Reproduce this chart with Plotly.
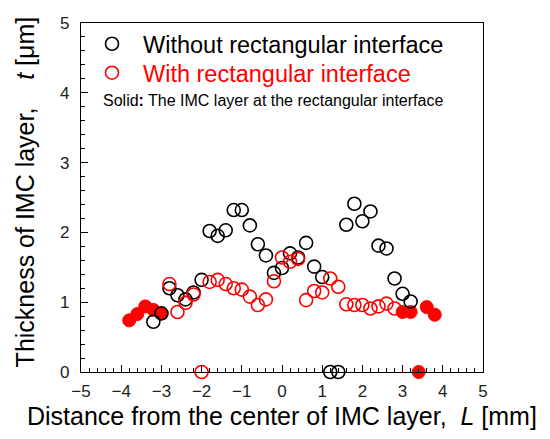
import plotly.graph_objects as go

# distance from the centre of the IMC layer [mm]
x_without = [-3.2, -3.0, -2.8, -2.6, -2.4, -2.2, -2.0, -1.8, -1.6, -1.4, -1.2, -1.0,
             -0.8, -0.6, -0.4, -0.2, 0.0, 0.2, 0.4, 0.6, 0.8, 1.0, 1.2, 1.4,
             1.6, 1.8, 2.0, 2.2, 2.4, 2.6, 2.8, 3.0, 3.2]
t_without = [0.72, 0.84, 1.20, 1.10, 1.04, 1.14, 1.32, 2.02, 1.95, 2.03, 2.32, 2.32,
             2.10, 1.83, 1.67, 1.42, 1.49, 1.70, 1.64, 1.85, 1.51, 1.36, 0.0, 0.0,
             2.11, 2.41, 2.16, 2.30, 1.81, 1.77, 1.34, 1.12, 1.01]

x_with = [-2.8, -2.6, -2.4, -2.2, -2.0, -1.8, -1.6, -1.4, -1.2, -1.0, -0.8, -0.6,
          -0.4, -0.2, 0.0, 0.2, 0.4, 0.6, 0.8, 1.0, 1.2, 1.4, 1.6, 1.8,
          2.0, 2.2, 2.4, 2.6, 2.8]
t_with = [1.26, 0.86, 0.99, 1.11, 0.0, 1.29, 1.32, 1.26, 1.20, 1.18, 1.08, 0.96,
          1.04, 1.30, 1.64, 1.58, 1.62, 1.03, 1.16, 1.14, 1.34, 1.22, 0.97, 0.96,
          0.96, 0.91, 0.94, 0.98, 0.91]

# IMC layer at the rectangular interface
x_solid = [-3.8, -3.6, -3.4, -3.2, -3.0, 3.0, 3.2, 3.4, 3.6, 3.8]
t_solid = [0.74, 0.83, 0.94, 0.89, 0.84, 0.86, 0.86, 0.0, 0.93, 0.82]

RED = '#ff0000'
FONT = 'Liberation Sans, Arial, sans-serif'

fig = go.Figure()
fig.add_trace(go.Scatter(x=x_solid, y=t_solid, mode='markers', showlegend=False,
                         cliponaxis=False,
                         marker=dict(symbol='circle', size=13, color=RED,
                                     line=dict(color=RED, width=1))))
fig.add_trace(go.Scatter(x=x_without, y=t_without, mode='markers',
                         name='Without rectangular interface', legend='legend',
                         cliponaxis=False,
                         marker=dict(symbol='circle-open', size=13, color='black',
                                     line=dict(width=1.6))))
fig.add_trace(go.Scatter(x=x_with, y=t_with, mode='markers',
                         name='With rectangular interface', legend='legend2',
                         cliponaxis=False,
                         marker=dict(symbol='circle-open', size=13, color=RED,
                                     line=dict(width=1.6))))

axis_common = dict(showgrid=False, zeroline=False, showline=True, linecolor='black',
                   linewidth=1.2, mirror=True, ticks='inside', ticklen=7,
                   tickcolor='black', tickwidth=1, automargin=False,
                   tickfont=dict(family=FONT, size=17, color='#222'),
                   minor=dict(ticks='inside', ticklen=4, tickcolor='black', dtick=0.2))

fig.update_xaxes(range=[-5, 5], dtick=1, ticklabelstandoff=3, **axis_common)
fig.update_yaxes(range=[0, 5], dtick=1, ticklabelstandoff=7, **axis_common)

# axis titles
fig.add_annotation(xref='paper', yref='paper', x=0.5, y=-0.125, showarrow=False,
                   xanchor='center', yanchor='middle',
                   text='Distance from the center of IMC layer,  <i>L</i> [mm]',
                   font=dict(family=FONT, size=25, color='black'))
fig.add_annotation(xref='paper', yref='paper', x=-0.139, y=0.515, showarrow=False,
                   xanchor='center', yanchor='middle', textangle=-90,
                   text='Thickness of IMC layer,    <i>t</i> [\u03bcm]',
                   font=dict(family=FONT, size=25, color='black'))

fig.add_annotation(xref='paper', yref='paper', x=0.05, y=0.779, xanchor='left',
                   yanchor='middle', showarrow=False,
                   text='Solid<b>:</b> The IMC layer at the rectangular interface',
                   font=dict(family=FONT, size=16, color='black'))

legend_common = dict(xanchor='left', yanchor='middle', bgcolor='rgba(0,0,0,0)',
                     itemwidth=52)
fig.update_layout(width=550, height=439, plot_bgcolor='white', paper_bgcolor='white',
                  margin=dict(l=73, r=75, t=15, b=75),
                  legend=dict(x=0.0, y=0.94,
                              font=dict(family=FONT, size=23.5, color='black'),
                              **legend_common),
                  legend2=dict(x=0.0, y=0.857,
                               font=dict(family=FONT, size=23.5, color=RED),
                               **legend_common))

fig.write_html('out.html')
